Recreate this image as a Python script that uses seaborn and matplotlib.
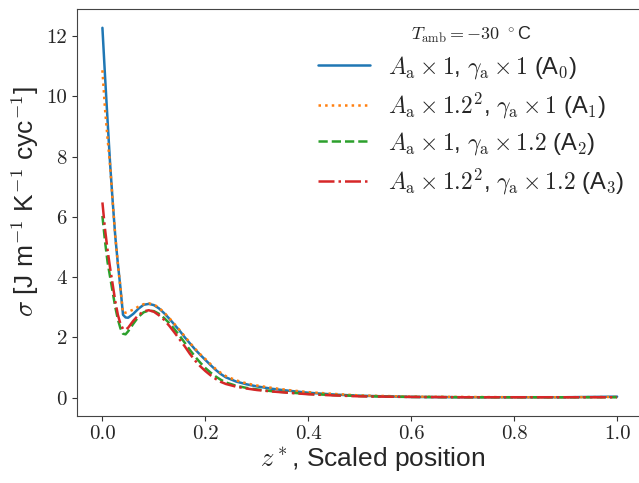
import matplotlib
matplotlib.use("Agg")
import matplotlib.pyplot as plt
import numpy as np
import pandas as pd
import seaborn as sns

sns.set_style("ticks")
plt.rcParams["font.family"] = ["Liberation Sans", "DejaVu Sans"]
plt.rcParams["mathtext.fontset"] = "cm"

# scaled position z*
z = [0.0, 0.005, 0.01, 0.015, 0.02, 0.025, 0.03, 0.035, 0.04, 0.045, 0.05,
     0.06, 0.07, 0.08, 0.09, 0.10, 0.11, 0.12, 0.13, 0.14, 0.15, 0.16, 0.17,
     0.18, 0.19, 0.20, 0.21, 0.22, 0.23, 0.24, 0.26, 0.28, 0.30, 0.33, 0.36,
     0.40, 0.45, 0.50, 0.55, 0.60, 0.70, 0.80, 0.90, 1.00]

sigma_a0 = [12.28, 10.7, 9.2, 7.75, 6.5, 5.35, 4.45, 3.65, 2.75, 2.66, 2.65,
            2.78, 2.95, 3.08, 3.11, 3.07, 2.96, 2.80, 2.62, 2.42, 2.22, 2.00, 1.80,
            1.60, 1.42, 1.25, 1.08, 0.92, 0.78, 0.67, 0.53, 0.44, 0.37, 0.29, 0.23,
            0.16, 0.10, 0.06, 0.04, 0.02, 0.01, 0.01, 0.01, 0.03]
sigma_a1 = [10.87, 9.6, 8.6, 7.7, 6.5, 5.35, 4.45, 3.65, 2.80, 2.82, 2.85,
            2.92, 3.02, 3.10, 3.13, 3.09, 2.98, 2.82, 2.64, 2.44, 2.24, 2.03, 1.82,
            1.62, 1.44, 1.28, 1.11, 0.95, 0.82, 0.71, 0.57, 0.47, 0.40, 0.32, 0.25,
            0.18, 0.12, 0.07, 0.05, 0.03, 0.02, 0.01, 0.01, 0.02]
sigma_a2 = [6.03, 5.2, 4.5, 4.0, 3.5, 3.0, 2.6, 2.3, 2.12, 2.10, 2.20,
            2.45, 2.68, 2.83, 2.89, 2.87, 2.78, 2.64, 2.47, 2.27, 2.05, 1.82, 1.58,
            1.36, 1.16, 0.98, 0.83, 0.70, 0.59, 0.50, 0.39, 0.32, 0.27, 0.21, 0.17,
            0.12, 0.08, 0.05, 0.03, 0.02, 0.01, 0.01, 0.01, 0.01]
sigma_a3 = [6.48, 5.6, 4.9, 4.3, 3.75, 3.2, 2.75, 2.45, 2.28, 2.25, 2.32,
            2.55, 2.74, 2.86, 2.90, 2.85, 2.73, 2.58, 2.38, 2.16, 1.93, 1.70, 1.45,
            1.23, 1.04, 0.88, 0.74, 0.62, 0.52, 0.45, 0.36, 0.30, 0.25, 0.20, 0.16,
            0.11, 0.07, 0.04, 0.03, 0.02, 0.01, 0.01, 0.01, 0.01]

labels = [
    r"$A_\mathrm{a}\times 1$, $\gamma_\mathrm{a}\times 1$ (A$_0$)",
    r"$A_\mathrm{a}\times 1.2^2$, $\gamma_\mathrm{a}\times 1$ (A$_1$)",
    r"$A_\mathrm{a}\times 1$, $\gamma_\mathrm{a}\times 1.2$ (A$_2$)",
    r"$A_\mathrm{a}\times 1.2^2$, $\gamma_\mathrm{a}\times 1.2$ (A$_3$)",
]
series = [sigma_a0, sigma_a1, sigma_a2, sigma_a3]
colors = ["#1f77b4", "#ff7f0e", "#2ca02c", "#d62728"]
styles = ["-", ":", "--", "-."]

fig = plt.figure(figsize=(6.39, 4.83), dpi=100)
ax = fig.add_axes([0.12, 0.1393, 0.886, 0.8414])

for y, lab, c, ls in zip(series, labels, colors, styles):
    sns.lineplot(x=z, y=y, ax=ax, color=c, linestyle=ls, label=lab, lw=1.8)

ax.set_xticks([0.0, 0.2, 0.4, 0.6, 0.8, 1.0])
ax.set_yticks([0, 2, 4, 6, 8, 10, 12])
ax.tick_params(labelsize=15, labelfontfamily="cmr10", color="#333333")
for sp in ax.spines.values():
    sp.set_color("#444444")

ax.set_xlabel(r"$z^*$, Scaled position", fontsize=19, x=0.523, labelpad=1)
ax.set_ylabel(r"$\sigma$ [J m$^{-1}$ K$^{-1}$ cyc$^{-1}$]", fontsize=19, y=0.527)

leg = ax.legend(title=r"$T_\mathrm{amb}=-30\ ^\circ$C", frameon=False,
                fontsize=17, title_fontsize=13, loc="upper right",
                handlelength=2.2, handletextpad=0.75, labelspacing=0.4,
                bbox_to_anchor=(1.005, 1.015))

fig.savefig("out.png", dpi=100, facecolor="white")
